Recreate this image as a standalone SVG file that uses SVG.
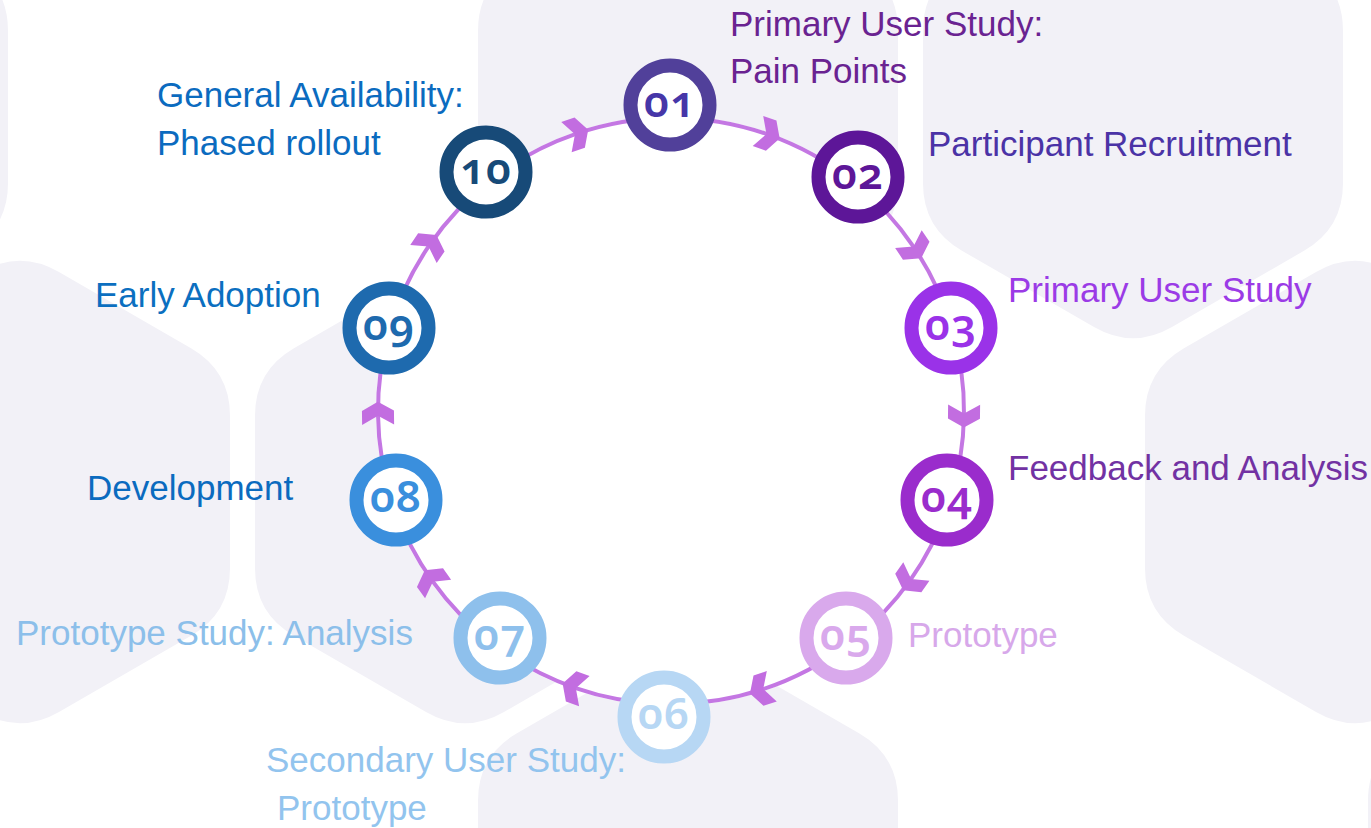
<svg xmlns="http://www.w3.org/2000/svg" width="1371" height="828" viewBox="0 0 1371 828">
  <style>
    .hex { fill: #f2f1f7; }
    .conn { fill: none; stroke: #c477e3; stroke-width: 4; marker-mid: url(#chev); }
    .ring { fill: #ffffff; stroke-width: 14; }
    .num { font-family: "Noto Sans", "Lato", sans-serif; font-weight: 600; font-size: 44px; text-anchor: middle; font-variant-numeric: oldstyle-nums; letter-spacing: 1px; }
    .label { font-family: "Liberation Sans", Arial, sans-serif; font-size: 35px; }
  </style>
  <defs>
    <path id="hexShape" d="M 38.97 -220 L 171.03 -143.75 Q 210 -121.25 210 -76.25 L 210 76.25 Q 210 121.25 171.03 143.75 L 38.97 220 Q 0 242.5 -38.97 220 L -171.03 143.75 Q -210 121.25 -210 76.25 L -210 -76.25 Q -210 -121.25 -171.03 -143.75 L -38.97 -220 Q 0 -242.5 38.97 -220 Z"/>
    <marker id="chev" viewBox="-16 -18 32 36" markerWidth="32" markerHeight="36" refX="0" refY="0" orient="auto" markerUnits="userSpaceOnUse">
      <polygon points="13,0 4,-16 -10,-16 -1,0 -10,16 4,16" fill="#c26de0"/>
    </marker>
  </defs>

  <g id="background">
    <rect x="0" y="0" width="1371" height="828" fill="#ffffff"/>
    <use href="#hexShape" class="hex" transform="translate(-202,107)"/>
    <use href="#hexShape" class="hex" transform="translate(688,107)"/>
    <use href="#hexShape" class="hex" transform="translate(1133,107)"/>
    <use href="#hexShape" class="hex" transform="translate(20,492)"/>
    <use href="#hexShape" class="hex" transform="translate(465,492)"/>
    <use href="#hexShape" class="hex" transform="translate(1355,492)"/>
    <use href="#hexShape" class="hex" transform="translate(688,877)"/>
    <use href="#hexShape" class="hex" transform="translate(1578,877)"/>
    <circle cx="671" cy="411" r="295" fill="#ffffff"/>
  </g>

  <g id="connectors">
    <path class="conn" d="M 670 118 A 293 293 0 0 1 767.4 134.3 A 293 293 0 0 1 853.8 182"/>
    <path class="conn" d="M 853.8 182 A 293 293 0 0 1 914 247.4 A 293 293 0 0 1 951.9 327.8"/>
    <path class="conn" d="M 951.9 327.8 A 293 293 0 0 1 964 414.6 A 293 293 0 0 1 949.8 501.1"/>
    <path class="conn" d="M 949.8 501.1 A 293 293 0 0 1 910.6 579.7 A 293 293 0 0 1 849.8 643.1"/>
    <path class="conn" d="M 849.8 643.1 A 293 293 0 0 1 762.3 689.4 A 293 293 0 0 1 664.4 703.9"/>
    <path class="conn" d="M 664.4 703.9 A 293 293 0 0 1 574.9 687.8 A 293 293 0 0 1 494.7 645"/>
    <path class="conn" d="M 494.7 645 A 293 293 0 0 1 432.3 580.9 A 293 293 0 0 1 392.2 501.1"/>
    <path class="conn" d="M 392.2 501.1 A 293 293 0 0 1 378 414.8 A 293 293 0 0 1 389.9 328.3"/>
    <path class="conn" d="M 389.9 328.3 A 293 293 0 0 1 429.1 245.7 A 293 293 0 0 1 491.8 179.2"/>
    <path class="conn" d="M 491.8 179.2 A 293 293 0 0 1 575.9 133.9 A 293 293 0 0 1 670 118"/>
  </g>

  <g id="node-01">
    <circle class="ring" cx="670" cy="105" r="39.5" stroke="#51409a"/>
    <text class="num" x="670" y="117" fill="#4636a8">01</text>
    <text class="label" fill="#6a2391"><tspan x="730" y="36">Primary User Study:</tspan><tspan x="730" y="83">Pain Points</tspan></text>
  </g>
  <g id="node-02">
    <circle class="ring" cx="858" cy="177" r="39.5" stroke="#5d1698"/>
    <text class="num" x="858" y="189" fill="#5d1698">02</text>
    <text class="label" x="928" y="156" fill="#4b33a6">Participant Recruitment</text>
  </g>
  <g id="node-03">
    <circle class="ring" cx="951" cy="328" r="39.5" stroke="#9a32e8"/>
    <text class="num" x="951" y="340" fill="#9a32e8">03</text>
    <text class="label" x="1008" y="302" fill="#9b3be6">Primary User Study</text>
  </g>
  <g id="node-04">
    <circle class="ring" cx="947" cy="500" r="39.5" stroke="#9a2ccc"/>
    <text class="num" x="947" y="512" fill="#9a2ccc">04</text>
    <text class="label" x="1008" y="480" fill="#7232a3">Feedback and Analysis</text>
  </g>
  <g id="node-05">
    <circle class="ring" cx="846" cy="638" r="39.5" stroke="#d9a9ec"/>
    <text class="num" x="846" y="650" fill="#d9a9ec">05</text>
    <text class="label" x="908" y="647" fill="#d7a8ea">Prototype</text>
  </g>
  <g id="node-06">
    <circle class="ring" cx="664" cy="717" r="39.5" stroke="#b7d7f4"/>
    <text class="num" x="664" y="729" fill="#b7d7f4">06</text>
    <text class="label" fill="#92c4ee"><tspan x="266" y="772">Secondary User Study:</tspan><tspan x="277" y="820">Prototype</tspan></text>
  </g>
  <g id="node-07">
    <circle class="ring" cx="500" cy="638" r="39.5" stroke="#8ec0ec"/>
    <text class="num" x="500" y="650" fill="#8ec0ec">07</text>
    <text class="label" x="16" y="645" fill="#8cbfea">Prototype Study: Analysis</text>
  </g>
  <g id="node-08">
    <circle class="ring" cx="396" cy="500" r="39.5" stroke="#3a8fdd"/>
    <text class="num" x="396" y="512" fill="#3a8fdd">08</text>
    <text class="label" x="87" y="500" fill="#0b6bbf">Development</text>
  </g>
  <g id="node-09">
    <circle class="ring" cx="389" cy="328" r="39.5" stroke="#1e6aae"/>
    <text class="num" x="389" y="340" fill="#1e6aae">09</text>
    <text class="label" x="95" y="307" fill="#0b6fc0">Early Adoption</text>
  </g>
  <g id="node-10">
    <circle class="ring" cx="486" cy="172" r="39.5" stroke="#174a78"/>
    <text class="num" x="486" y="184" fill="#174a78">10</text>
    <text class="label" fill="#0b6bbf"><tspan x="157" y="107">General Availability:</tspan><tspan x="157" y="155">Phased rollout</tspan></text>
  </g>
</svg>
